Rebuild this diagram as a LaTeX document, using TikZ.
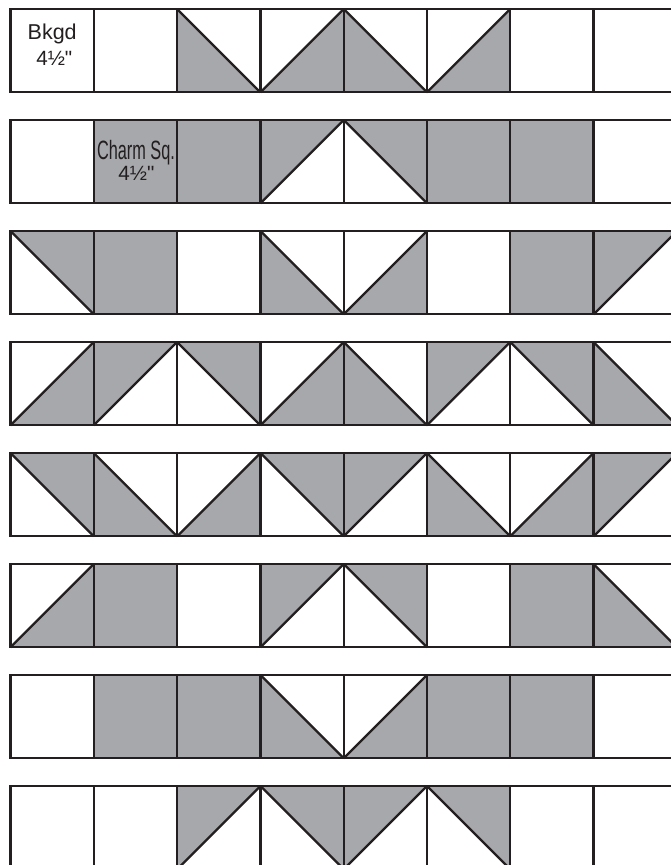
\documentclass[tikz,border=0pt]{standalone}
\usepackage{graphicx}
\usepackage{fontspec}
\newfontfamily\lblfont{Liberation Sans}
\definecolor{qgray}{HTML}{A7A8AB}
\definecolor{qink}{HTML}{231F20}
\def\S{83.3}
\tikzset{
  edge/.style={draw=qink, line width=2.3pt, line join=miter},
  tri/.style={fill=qgray},
  lbl/.style={anchor=base, inner sep=0pt, text=qink, font=\lblfont},
  pics/qW/.style={code={\draw[edge] (0,0) rectangle (\S,\S);}},
  pics/qG/.style={code={\fill[tri] (0,0) rectangle (\S,\S); \draw[edge] (0,0) rectangle (\S,\S);}},
  pics/qBL/.style={code={\fill[tri] (0,0) -- (0,\S) -- (\S,\S) -- cycle; \draw[edge] (0,0) -- (\S,\S); \draw[edge] (0,0) rectangle (\S,\S);}},
  pics/qTR/.style={code={\fill[tri] (0,0) -- (\S,0) -- (\S,\S) -- cycle; \draw[edge] (0,0) -- (\S,\S); \draw[edge] (0,0) rectangle (\S,\S);}},
  pics/qBR/.style={code={\fill[tri] (0,\S) -- (\S,\S) -- (\S,0) -- cycle; \draw[edge] (0,\S) -- (\S,0); \draw[edge] (0,0) rectangle (\S,\S);}},
  pics/qTL/.style={code={\fill[tri] (0,0) -- (\S,0) -- (0,\S) -- cycle; \draw[edge] (0,\S) -- (\S,0); \draw[edge] (0,0) rectangle (\S,\S);}},
}
\begin{document}
\begin{tikzpicture}[x=1pt, y=-1pt]
  \useasboundingbox (0,0) rectangle (671,865);
  \clip (0,0) rectangle (671,865);
  \fill[white] (0,0) rectangle (671,865);
  \foreach \row [count=\r from 0] in {
    {qW,qW,qBL,qBR,qBL,qBR,qW,qW},
    {qW,qG,qG,qTL,qTR,qG,qG,qW},
    {qTR,qG,qW,qBL,qBR,qW,qG,qTL},
    {qBR,qTL,qTR,qBR,qBL,qTL,qTR,qBL},
    {qTR,qBL,qBR,qTR,qTL,qBL,qBR,qTL},
    {qBR,qG,qW,qTL,qTR,qW,qG,qBL},
    {qW,qG,qG,qBL,qBR,qG,qG,qW},
    {qW,qW,qTL,qTR,qTL,qTR,qW,qW}} {
    \foreach \t [count=\c from 0] in \row {
      \pic at ({10.5+83.3*\c},{9+111*\r}) {\t};
    }
  }
  \node[lbl] (bkgd) at (52.2,39.3) {\resizebox{49pt}{!}{Bkgd}};
  \node[lbl] (bkgdsize) at (54.3,65.7) {\resizebox{36pt}{!}{4½"}};
  \node[lbl] (charm) at (136,159) {\scalebox{0.615}[1]{\fontsize{26.5}{30}\selectfont Charm Sq.}};
  \node[lbl] (charmsize) at (136.5,180) {\resizebox{36pt}{!}{4½"}};
\end{tikzpicture}
\end{document}
